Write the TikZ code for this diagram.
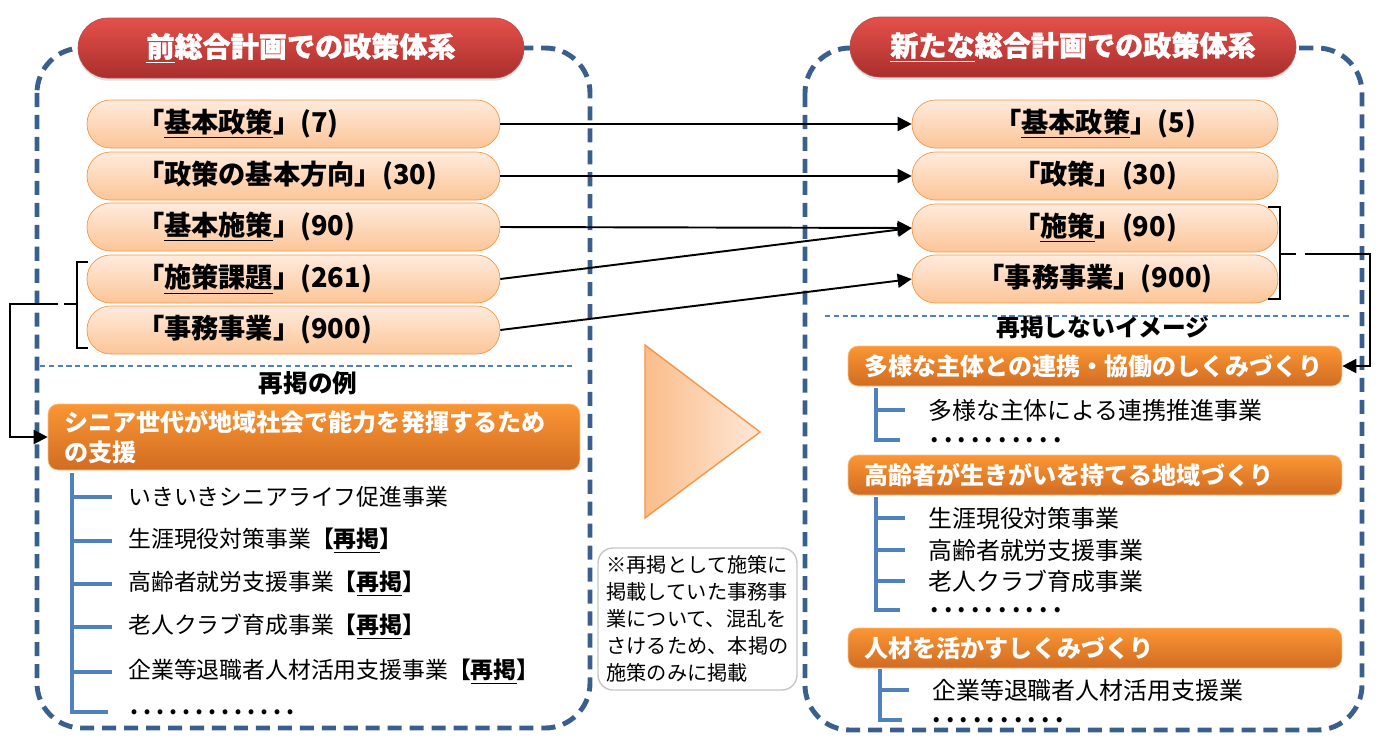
\documentclass[tikz,border=0pt]{standalone}
\usepackage{fontspec}
\setmainfont{Noto Sans CJK JP}
\usetikzlibrary{arrows.meta, shadows}

\definecolor{framebl}{HTML}{3A5F8F}
\definecolor{treebl}{HTML}{4F81BD}
\definecolor{pilltop}{HTML}{FFEBDD}
\definecolor{pillbot}{HTML}{FCC597}
\definecolor{pillline}{HTML}{F79646}
\definecolor{redtop}{HTML}{E5504B}
\definecolor{redbot}{HTML}{A92F2C}
\definecolor{orgtop}{HTML}{FA9634}
\definecolor{orgbot}{HTML}{D16C22}
\definecolor{trileft}{HTML}{FBBD8A}
\definecolor{triright}{HTML}{FDE8D8}

\newcommand{\rk}{\textbf{【\underline{再掲}】}}
\newcommand{\dotrow}[1]{{\bfseries\addfontfeature{LetterSpace=22}#1}}

\begin{document}
\begin{tikzpicture}[x=0.02cm, y=-0.02cm,
        frame/.style={draw=framebl, line width=2.8pt, dash pattern=on 8pt off 4.5pt,
                      rounded corners=0.9cm},
        header/.style={top color=redtop, bottom color=redbot, draw=redbot!85,
                       rounded corners=0.6cm, minimum width=8.92cm, minimum height=1.2cm,
                       text=white, font=\fontsize{16}{19}\selectfont\bfseries\addfontfeature{FakeBold=1.2},
                       drop shadow={opacity=0.25, shadow xshift=0pt, shadow yshift=-1.5pt}},
        oldlv/.style={draw=pillline, top color=pilltop, bottom color=pillbot,
                      rounded corners=0.47cm, minimum height=0.96cm,
                      inner xsep=1.0cm, text width=6.26cm, align=left,
                      font=\fontsize{15.5}{18}\selectfont\bfseries},
        newlv/.style={draw=pillline, top color=pilltop, bottom color=pillbot,
                      rounded corners=0.47cm, minimum height=0.96cm, minimum width=7.32cm,
                      font=\fontsize{15.5}{18}\selectfont\bfseries},
        theme/.style={draw=orgtop!60!white, top color=orgtop, bottom color=orgbot,
                      rounded corners=0.2cm, text=white, align=left, inner xsep=0.32cm,
                      font=\fontsize{13.7}{17}\selectfont\bfseries},
        item/.style={anchor=west, inner xsep=0pt, inner ysep=0pt, font=\fontsize{13}{15}\selectfont},
        ritem/.style={item, font=\fontsize{13.6}{15}\selectfont},
        note/.style={draw=gray!45, line width=0.8pt, rounded corners=0.3cm,
                     minimum width=3.98cm, minimum height=2.84cm, align=left,
                     font=\fontsize{11.5}{15.3}\selectfont},
        conn/.style={-{Triangle[length=8pt, width=8pt]}, line width=1.1pt},
        brk/.style={line width=1.3pt},
        tree/.style={draw=treebl, line width=1.8pt},
        sep/.style={draw=treebl, line width=0.7pt, dash pattern=on 3pt off 2pt}
    ]
    \useasboundingbox (0,0) rectangle (1385,738);

    \draw[frame] (37,48) rectangle (590,728);
    \draw[frame] (805,48) rectangle (1362,730);

    \node[header] (oldhead) at (301,48) {\underline{前}総合計画での政策体系};
    \node[header] (newhead) at (1073,47) {\underline{新たな}総合計画での政策体系};

    \node[oldlv] (o1) at (293.5,124) {「\underline{基本政策}」(7)};
    \node[oldlv] (o2) at (293.5,176) {「政策の基本方向」(30)};
    \node[oldlv] (o3) at (293.5,227) {「\underline{基本施策}」(90)};
    \node[oldlv] (o4) at (293.5,279) {「\underline{施策課題}」(261)};
    \node[oldlv] (o5) at (293.5,330) {「事務事業」(900)};

    \node[newlv] (n1) at (1095,124) {「\underline{基本政策}」(5)};
    \node[newlv] (n2) at (1095,176) {「政策」(30)};
    \node[newlv] (n3) at (1095,228) {「\underline{施策}」(90)};
    \node[newlv] (n4) at (1095,279) {「事務事業」(900)};

    \draw[conn] (o1.east) -- (n1.west);
    \draw[conn] (o2.east) -- (n2.west);
    \draw[conn] (o3.east) -- (n3.west);
    \draw[conn] (o4.east) -- (n3.west);
    \draw[conn] (o5.east) -- (n4.west);

    \draw[sep] (40,366) -- (572,366);
    \draw[sep] (825,316) -- (1350,316);

    \node[font=\fontsize{14}{16}\selectfont\bfseries] (exlab) at (308,383) {再掲の例};
    \node[font=\fontsize{13.5}{15}\selectfont\bfseries] (imlab) at (1103,328) {再掲しないイメージ};

    \node[theme, text width=10.0cm, minimum height=1.32cm] (ex) at (314,437)
        {シニア世代が地域社会で能力を発揮するため\\の支援};
    \node[item] (l1) at (128,497) {いきいきシニアライフ促進事業};
    \node[item] (l2) at (128,541) {生涯現役対策事業\rk};
    \node[item] (l3) at (128,584) {高齢者就労支援事業\rk};
    \node[item] (l4) at (128,627) {老人クラブ育成事業\rk};
    \node[item] (l5) at (128,672) {企業等退職者人材活用支援事業\rk};
    \node[item] (l6) at (130,712) {\dotrow{.............}};
    \foreach \i in {1,...,5}
        \draw[tree] (72,473) |- ([xshift=-0.32cm]l\i.west);
    \draw[tree] (72,473) |- ([xshift=-0.44cm]l6.west);

    \node[theme, text width=9.24cm, minimum height=0.8cm] (im1) at (1095,366)
        {多様な主体との連携・協働のしくみづくり};
    \node[ritem] (r11) at (928,410) {多様な主体による連携推進事業};
    \node[ritem] (r12) at (930,440) {\dotrow{..........}};
    \draw[tree] (876,388) |- ([xshift=-0.46cm]r11.west);
    \draw[tree] (876,388) |- ([xshift=-0.6cm]r12.west);

    \node[theme, text width=9.24cm, minimum height=0.8cm] (im2) at (1095,475)
        {高齢者が生きがいを持てる地域づくり};
    \node[ritem] (r21) at (928,518) {生涯現役対策事業};
    \node[ritem] (r22) at (928,550) {高齢者就労支援事業};
    \node[ritem] (r23) at (928,581) {老人クラブ育成事業};
    \node[ritem] (r24) at (930,610) {\dotrow{..........}};
    \foreach \i in {21,22,23}
        \draw[tree] (876,497) |- ([xshift=-0.46cm]r\i.west);
    \draw[tree] (876,497) |- ([xshift=-0.6cm]r24.west);

    \node[theme, text width=9.24cm, minimum height=0.8cm] (im3) at (1095,648)
        {人材を活かすしくみづくり};
    \node[ritem] (r31) at (932,690) {企業等退職者人材活用支援業};
    \node[ritem] (r32) at (932,720) {\dotrow{..........}};
    \draw[tree] (880,669) |- ([xshift=-0.46cm]r31.west);
    \draw[tree] (880,669) |- ([xshift=-0.6cm]r32.west);

    \draw[brk] (88,262) -- (77,262) -- (77,348) -- (88,348);
    \draw[brk] (77,304) -- (64,304);
    \coordinate (lbr) at (58,304);
    \draw[conn] (lbr) -- (10,304) |- (ex.west);

    \draw[brk] (1268,207) -- (1280,207) -- (1280,299) -- (1268,299);
    \draw[brk] (1280,254) -- (1296,254);
    \coordinate (rbr) at (1305,254);
    \draw[conn] (rbr) -- (1370,254) |- (im1.east);

    \shadedraw[left color=trileft, right color=triright, draw=pillline, line width=0.8pt]
        (645,345) -- (760,432) -- (645,518) -- cycle;

    \node[note] (note) at (697.5,619)
        {※再掲として施策に\\掲載していた事務事\\業について、混乱を\\さけるため、本掲の\\施策のみに掲載};
\end{tikzpicture}
\end{document}
